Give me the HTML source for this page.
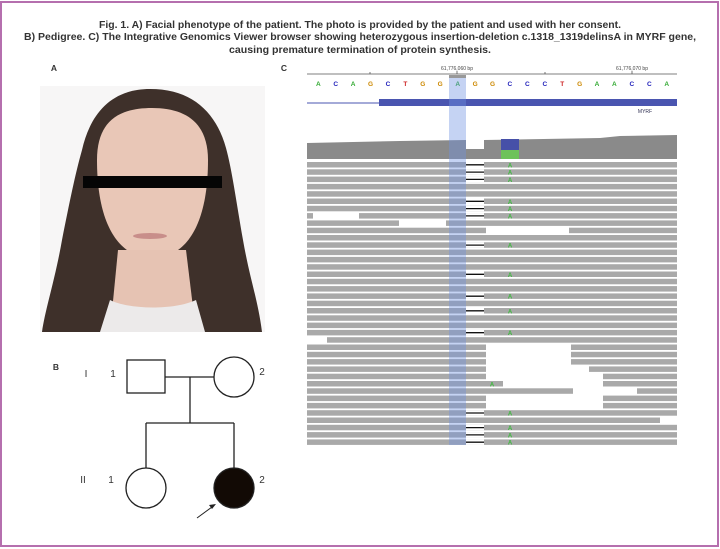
<!DOCTYPE html>
<html><head><meta charset="utf-8"><style>
html,body{margin:0;padding:0;background:#fff;}
svg{display:block;font-family:"Liberation Sans",sans-serif;}
</style></head><body>
<svg width="720" height="549" viewBox="0 0 720 549" xmlns="http://www.w3.org/2000/svg">
<rect x="1" y="2" width="717" height="544" fill="#fff" stroke="#b56fae" stroke-width="2"/>
<g font-weight="bold" font-size="10.5" fill="#333" text-anchor="middle">
<text x="360" y="28" textLength="522" lengthAdjust="spacingAndGlyphs">Fig. 1. A) Facial phenotype of the patient. The photo is provided by the patient and used with her consent.</text>
<text x="360" y="40" textLength="672" lengthAdjust="spacingAndGlyphs">B) Pedigree. C) The Integrative Genomics Viewer browser showing heterozygous insertion-deletion c.1318_1319delinsA in MYRF gene,</text>
<text x="360" y="53" textLength="262" lengthAdjust="spacingAndGlyphs">causing premature termination of protein synthesis.</text>
<text x="54" y="71" font-size="8.5">A</text>
<text x="284" y="71" font-size="8.5">C</text>
<text x="56" y="370" font-size="8.5">B</text>
</g>
<!-- Photo -->
<rect x="40" y="86" width="225" height="246" fill="#f7f6f6"/>
<path d="M150 89 C110 89 90 115 82 150 C75 175 70 200 62 240 C55 280 45 310 42 332 L262 332 C258 300 250 280 243 240 C236 200 232 170 226 148 C216 112 192 89 150 89 Z" fill="#3e302a"/>
<path d="M97 160 C97 120 120 108 152 108 C185 108 208 122 208 160 C208 210 195 240 175 252 C165 258 140 258 130 252 C110 240 97 210 97 160 Z" fill="#e9c7b7"/>
<path d="M118 250 L186 250 L196 332 L110 332 Z" fill="#e6c3b3"/>
<path d="M110 300 C130 310 175 310 196 300 L205 332 L100 332 Z" fill="#eceaea"/>
<ellipse cx="150" cy="236" rx="17" ry="3" fill="#c88e8a"/>
<rect x="83" y="176" width="139" height="12" fill="#050505"/>
<!-- IGV -->
<line x1="307" y1="74" x2="677" y2="74" stroke="#555" stroke-width="0.8"/>
<g stroke="#555" stroke-width="0.8"><line x1="370" y1="72" x2="370" y2="74"/><line x1="457" y1="71" x2="457" y2="74"/><line x1="545" y1="72" x2="545" y2="74"/><line x1="632" y1="71" x2="632" y2="74"/></g>
<g font-size="5" fill="#444" text-anchor="middle"><text x="457" y="70">61,776,060 bp</text><text x="632" y="70">61,776,070 bp</text><text x="645" y="113" fill="#335">MYRF</text></g>
<rect x="449" y="75" width="17" height="3" fill="#999"/>
<g font-size="6.5" font-weight="bold" text-anchor="middle">
<text x="318.3" y="86" fill="#3a3">A</text><text x="335.7" y="86" fill="#22b">C</text><text x="353.1" y="86" fill="#3a3">A</text><text x="370.5" y="86" fill="#c80">G</text><text x="388" y="86" fill="#22b">C</text><text x="405.4" y="86" fill="#c22">T</text><text x="422.8" y="86" fill="#c80">G</text><text x="440.2" y="86" fill="#c80">G</text><text x="457.7" y="86" fill="#3a3">A</text><text x="475.1" y="86" fill="#c80">G</text><text x="492.5" y="86" fill="#c80">G</text><text x="509.9" y="86" fill="#22b">C</text><text x="527.3" y="86" fill="#22b">C</text><text x="544.8" y="86" fill="#22b">C</text><text x="562.2" y="86" fill="#c22">T</text><text x="579.6" y="86" fill="#c80">G</text><text x="597" y="86" fill="#3a3">A</text><text x="614.4" y="86" fill="#3a3">A</text><text x="631.9" y="86" fill="#22b">C</text><text x="649.3" y="86" fill="#22b">C</text><text x="666.7" y="86" fill="#3a3">A</text>
</g>
<line x1="307" y1="103" x2="379" y2="103" stroke="#4a55b0" stroke-width="1"/>
<rect x="379" y="99" width="298" height="7" fill="#4a55b0"/>
<!-- coverage -->
<path d="M307 143 L400 141 L466 140 L466 149 L484 149 L484 140 L600 138 L620 136 L677 135 L677 159 L307 159 Z" fill="#8a8a8a"/>
<rect x="501" y="139" width="18" height="11" fill="#4650a8"/>
<rect x="501" y="150" width="18" height="9" fill="#6ec25a"/>
<!-- reads -->
<g fill="#a9a9a9">
<rect x="307" y="162" width="370" height="5.5"/><rect x="307" y="169.3" width="370" height="5.5"/><rect x="307" y="176.6" width="370" height="5.5"/>
<rect x="307" y="183.9" width="370" height="5.5"/><rect x="307" y="191.2" width="370" height="5.5"/>
<rect x="307" y="198.5" width="370" height="5.5"/><rect x="307" y="205.8" width="370" height="5.5"/>
<rect x="307" y="213.1" width="6" height="5.5"/><rect x="359" y="213.1" width="318" height="5.5"/>
<rect x="307" y="220.4" width="92" height="5.5"/><rect x="446" y="220.4" width="231" height="5.5"/>
<rect x="307" y="227.7" width="179" height="5.5"/><rect x="569" y="227.7" width="108" height="5.5"/>
<rect x="307" y="235" width="370" height="5.5"/><rect x="307" y="242.3" width="370" height="5.5"/>
<rect x="307" y="249.6" width="370" height="5.5"/><rect x="307" y="256.9" width="370" height="5.5"/><rect x="307" y="264.2" width="370" height="5.5"/>
<rect x="307" y="271.5" width="370" height="5.5"/><rect x="307" y="278.8" width="370" height="5.5"/><rect x="307" y="286.1" width="370" height="5.5"/>
<rect x="307" y="293.4" width="370" height="5.5"/><rect x="307" y="300.7" width="370" height="5.5"/><rect x="307" y="308" width="370" height="5.5"/>
<rect x="307" y="315.3" width="370" height="5.5"/><rect x="307" y="322.6" width="370" height="5.5"/><rect x="307" y="329.9" width="370" height="5.5"/>
<rect x="327" y="337.2" width="350" height="5.5"/>
<rect x="307" y="344.5" width="179" height="5.5"/><rect x="571" y="344.5" width="106" height="5.5"/>
<rect x="307" y="351.8" width="179" height="5.5"/><rect x="571" y="351.8" width="106" height="5.5"/>
<rect x="307" y="359.1" width="179" height="5.5"/><rect x="571" y="359.1" width="106" height="5.5"/>
<rect x="307" y="366.4" width="179" height="5.5"/><rect x="589" y="366.4" width="88" height="5.5"/>
<rect x="307" y="373.7" width="179" height="5.5"/><rect x="603" y="373.7" width="74" height="5.5"/>
<rect x="307" y="381" width="196" height="5.5"/><rect x="603" y="381" width="74" height="5.5"/>
<rect x="307" y="388.3" width="266" height="5.5"/><rect x="637" y="388.3" width="40" height="5.5"/>
<rect x="307" y="395.6" width="179" height="5.5"/><rect x="603" y="395.6" width="74" height="5.5"/>
<rect x="307" y="402.9" width="179" height="5.5"/><rect x="603" y="402.9" width="74" height="5.5"/>
<rect x="307" y="410.2" width="370" height="5.5"/><rect x="307" y="417.5" width="353" height="5.5"/>
<rect x="307" y="424.8" width="370" height="5.5"/><rect x="307" y="432.1" width="370" height="5.5"/><rect x="307" y="439.4" width="370" height="5.5"/>
</g>
<!-- deletions -->
<g>
<g fill="#fff">
<rect x="466" y="162" width="18" height="5.5"/><rect x="466" y="169.3" width="18" height="5.5"/><rect x="466" y="176.6" width="18" height="5.5"/>
<rect x="466" y="198.5" width="18" height="5.5"/><rect x="466" y="205.8" width="18" height="5.5"/><rect x="466" y="213.1" width="18" height="5.5"/>
<rect x="466" y="242.3" width="18" height="5.5"/><rect x="466" y="271.5" width="18" height="5.5"/><rect x="466" y="293.4" width="18" height="5.5"/>
<rect x="466" y="308" width="18" height="5.5"/><rect x="466" y="329.9" width="18" height="5.5"/><rect x="466" y="410.2" width="18" height="5.5"/>
<rect x="466" y="424.8" width="18" height="5.5"/><rect x="466" y="432.1" width="18" height="5.5"/><rect x="466" y="439.4" width="18" height="5.5"/>
</g>
<g stroke="#111" stroke-width="1.3">
<line x1="466" x2="484" y1="164.8" y2="164.8"/><line x1="466" x2="484" y1="172.1" y2="172.1"/><line x1="466" x2="484" y1="179.4" y2="179.4"/>
<line x1="466" x2="484" y1="201.3" y2="201.3"/><line x1="466" x2="484" y1="208.6" y2="208.6"/><line x1="466" x2="484" y1="215.9" y2="215.9"/>
<line x1="466" x2="484" y1="245.1" y2="245.1"/><line x1="466" x2="484" y1="274.3" y2="274.3"/><line x1="466" x2="484" y1="296.2" y2="296.2"/>
<line x1="466" x2="484" y1="310.8" y2="310.8"/><line x1="466" x2="484" y1="332.7" y2="332.7"/><line x1="466" x2="484" y1="413" y2="413"/>
<line x1="466" x2="484" y1="427.6" y2="427.6"/><line x1="466" x2="484" y1="434.9" y2="434.9"/><line x1="466" x2="484" y1="442.2" y2="442.2"/>
</g>
<g fill="#3bb83b" font-size="6" text-anchor="middle" font-weight="bold">
<text x="510" y="167.3">A</text><text x="510" y="174.6">A</text><text x="510" y="181.9">A</text>
<text x="510" y="203.8">A</text><text x="510" y="211.1">A</text><text x="510" y="218.4">A</text>
<text x="510" y="247.6">A</text><text x="510" y="276.8">A</text><text x="510" y="298.7">A</text>
<text x="510" y="313.3">A</text><text x="510" y="335.2">A</text><text x="492" y="386.3">A</text><text x="510" y="415.5">A</text>
<text x="510" y="430.1">A</text><text x="510" y="437.4">A</text><text x="510" y="444.7">A</text>
</g>
</g>
<rect x="449" y="78" width="17" height="367" fill="rgb(110,145,225)" fill-opacity="0.4"/>
<!-- Pedigree -->
<g stroke="#222" stroke-width="1.3" fill="#fff">
<line x1="165" y1="377" x2="214" y2="377"/>
<line x1="190" y1="377" x2="190" y2="423"/>
<line x1="146" y1="423" x2="234" y2="423"/>
<line x1="146" y1="423" x2="146" y2="468"/>
<line x1="234" y1="423" x2="234" y2="468"/>
<rect x="127" y="360" width="38" height="33"/>
<circle cx="234" cy="377" r="20"/>
<circle cx="146" cy="488" r="20"/>
<circle cx="234" cy="488" r="20" fill="#120a05"/>
<line x1="197" y1="518" x2="212" y2="507" stroke-width="1"/>
</g>
<path d="M216 504 L209 505 L212 509 Z" fill="#222"/>
<g font-size="10" fill="#333" text-anchor="middle">
<text x="86" y="377">I</text><text x="113" y="377">1</text><text x="262" y="375">2</text>
<text x="83" y="483">II</text><text x="111" y="483">1</text><text x="262" y="483">2</text>
</g>
</svg>
</body></html>
